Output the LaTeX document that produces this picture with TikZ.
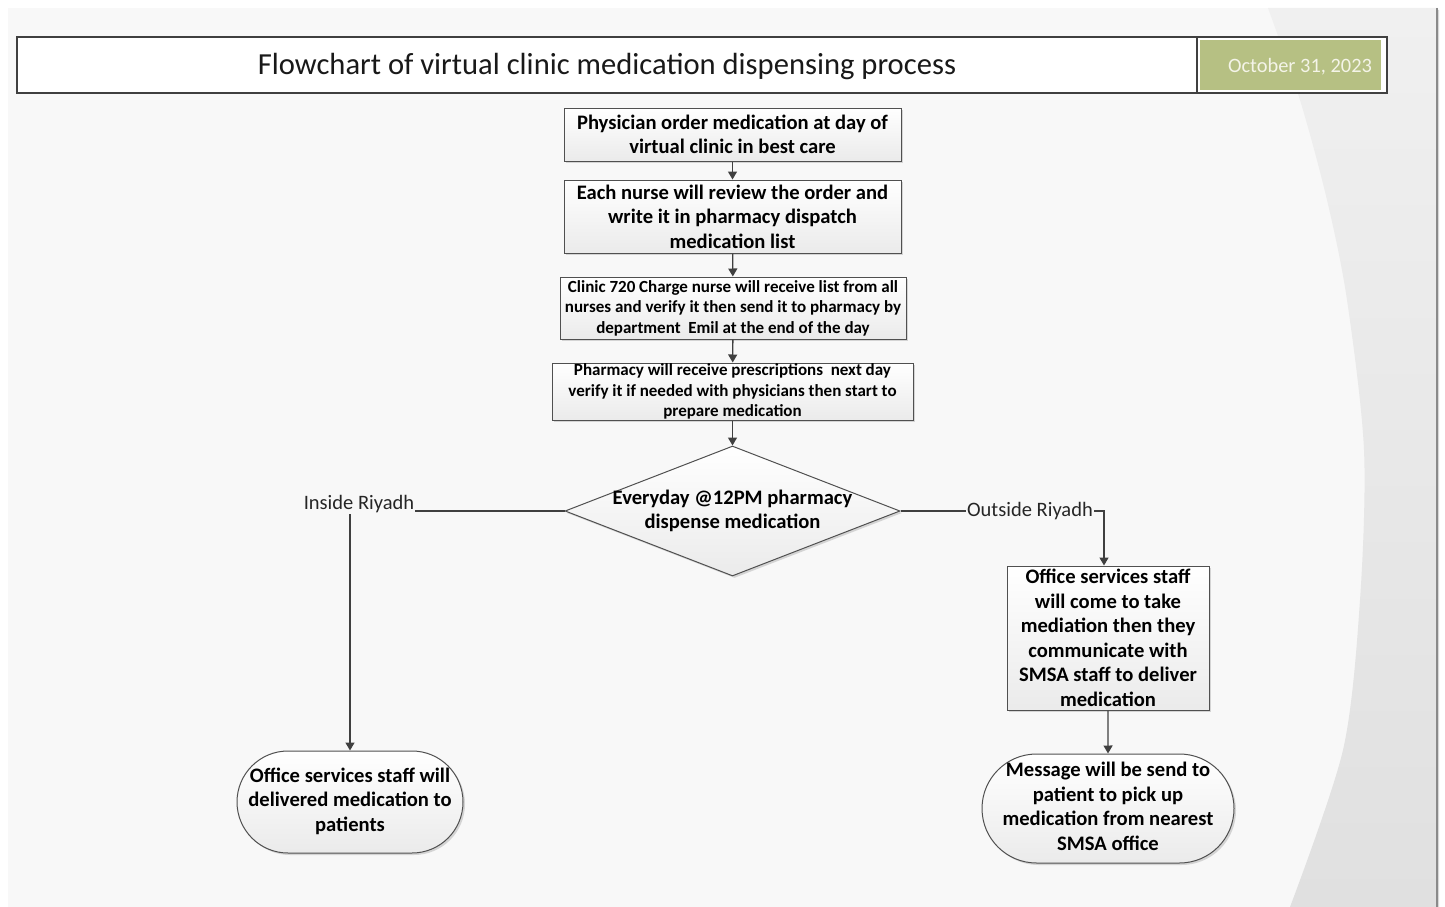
\documentclass[tikz,border=0pt]{standalone}
\usepackage{fontspec}
\setmainfont{Carlito}
\usetikzlibrary{shapes.geometric,shapes.misc,shadows,arrows.meta,calc}
\definecolor{slidebg}{HTML}{F8F8F8}
\definecolor{linec}{HTML}{404040}
\definecolor{boxline}{HTML}{505050}
\definecolor{datefill}{HTML}{B6C083}
\definecolor{datetext}{HTML}{F4F4E8}
\definecolor{swooshtop}{HTML}{F0F0F0}
\definecolor{swooshbot}{HTML}{E0E0E0}
\definecolor{edgec}{HTML}{8A8A8A}
\newcommand\mytermtext[2]{\makebox[#1]{\begin{tabular}{@{}c@{}}#2\end{tabular}}}
\begin{document}
\begin{tikzpicture}[x=1pt,y=-1pt,
  shade/.style={top color=white, bottom color=black!8,
    drop shadow={shadow xshift=2pt,shadow yshift=-2pt,fill=black!30,opacity=.5}},
  proc/.style={shade, draw=boxline, line width=1pt, align=center, inner xsep=2pt, inner ysep=0pt,
    font=\bfseries\fontsize{20.6}{24.5}\selectfont},
  smallproc/.style={proc, font=\bfseries\fontsize{17}{20.5}\selectfont},
  decision/.style={proc, diamond, aspect=2.577, inner sep=-8pt},
  terminal/.style={proc, rounded rectangle, inner ysep=0pt, inner xsep=0pt},
  conn/.style={draw=linec, line width=1.4pt, -{Triangle[length=8pt,width=9pt]}},
  lbl/.style={fill=slidebg, inner sep=1pt, font=\fontsize{20.5}{23}\selectfont, text=black!85}
]
\useasboundingbox (0,0) rectangle (1445,907);
% slide background
\fill[white] (0,0) rectangle (1445,907);
\fill[slidebg] (8,8) rectangle (1437,907);
\shade[top color=swooshtop, bottom color=swooshbot]
  plot[smooth] coordinates {(1268,8) (1300,100) (1327,200) (1347,300) (1364,450) (1360,600) (1343,750) (1290,907)}
  -- (1437,907) -- (1437,8) -- cycle;
\draw[edgec, line width=2pt] (1437,8) -- (1437,907);

% title bar
\node[draw=linec, line width=1.2pt, fill=white, minimum width=1180, minimum height=56, inner sep=0pt] (titleframe) at (607,65) {};
\node[font=\fontsize{30.6}{33}\selectfont, text=black!90, inner sep=0pt] (title) at (607,67) {Flowchart of virtual clinic medication dispensing process};
\node[draw=linec, line width=1.2pt, fill=white, minimum width=190, minimum height=56, inner sep=0pt] (dateframe) at (1292,65) {};
\node[fill=datefill, minimum width=181, minimum height=50, inner sep=0pt] (datebox) at (1290.5,65) {};
\node[text=datetext, font=\fontsize{20.4}{23}\selectfont, inner sep=0pt] (date) at (1300,66.5) {October 31, 2023};

% process nodes
\node[proc, minimum width=337, minimum height=53] (b1) at (732.5,134.5)
  {Physician order medication at day of\\virtual clinic in best care};
\node[proc, minimum width=337, minimum height=73] (b2) at (732.5,216.5)
  {Each nurse will review the order and\\write it in pharmacy dispatch\\medication list};
\node[smallproc, minimum width=346, minimum height=62] (b3) at (733,308)
  {Clinic 720 Charge nurse will receive list from all\\nurses and verify it then send it to pharmacy by\\department\ \ Emil at the end of the day};
\node[smallproc, minimum width=361, minimum height=57] (b4) at (732.5,391.5)
  {Pharmacy will receive prescriptions\ \ next day\\verify it if needed with physicians then start to\\prepare medication};
\node[decision, minimum width=335, minimum height=130] (dia) at (732.5,511)
  {Everyday @12PM pharmacy\\dispense medication};
\node[terminal, minimum width=226, minimum height=102] (lterm) at (350,802)
  {\mytermtext{174pt}{Office services staff will\\delivered medication to\\patients}};
\node[proc, minimum width=202, minimum height=144] (rbox) at (1108,638)
  {Office services staff\\will come to take\\mediation then they\\communicate with\\SMSA staff to deliver\\medication};
\node[terminal, minimum width=252, minimum height=109] (rterm) at (1108,808.5)
  {\mytermtext{184pt}{Message will be send to\\patient to pick up\\medication from nearest\\SMSA office}};

% connectors
\draw[conn] (b1) -- (b2);
\draw[conn] (b2) -- (b3);
\draw[conn] (b3) -- (b4);
\draw[conn] (b4) -- (dia);
\draw[conn] (dia.west) -| (lterm.north);
\draw[conn] (dia.east) -| ($(rbox.north)+(-4,0)$);
\draw[conn] (rbox) -- (rterm);

% branch labels
\node[lbl] (lin) at (359,504.5) {Inside Riyadh};
\node[lbl] (lout) at (1030,511.5) {Outside Riyadh};
\end{tikzpicture}
\end{document}
